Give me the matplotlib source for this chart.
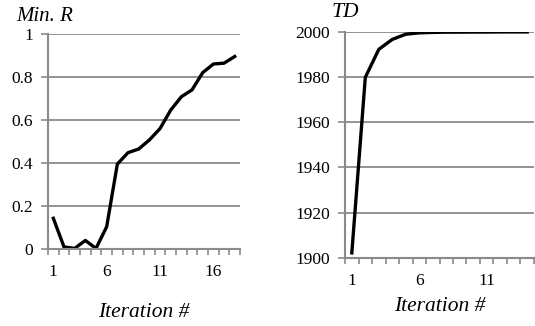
import matplotlib.pyplot as plt
import numpy as np

# Datos
min_r_iter = np.arange(1, 19)
min_r = [0.143, 0.01, 0.003, 0.04, 0.003, 0.104, 0.395, 0.448, 0.465, 0.507,
         0.56, 0.646, 0.708, 0.74, 0.82, 0.86, 0.864, 0.895]

td_iter = np.arange(1, 15)
td = [1902.2, 1979.9, 1992.3, 1996.7, 1999.0, 1999.6, 1999.8, 1999.9,
      1999.9, 1999.95, 1999.95, 2000, 2000, 2000]

plt.rcParams['font.family'] = 'Liberation Serif'
grey = '#8a8a8a'

fig = plt.figure(figsize=(5.35, 3.26), dpi=100)
ax1 = fig.add_axes([0.0897, 0.236, 0.359, 0.660])
ax2 = fig.add_axes([0.645, 0.209, 0.353, 0.693])


def estilo(ax, n, ticks):
    ax.set_xlim(0.5, n + 0.5)
    ax.set_xticks(ticks)
    ax.set_xticks(np.arange(0.5, n + 1), minor=True)
    ax.tick_params(axis='x', which='major', length=0, pad=11, labelsize=12.5)
    ax.tick_params(axis='x', which='minor', length=4, width=1.2, color=grey)
    ax.tick_params(axis='y', length=5, width=1.2, color=grey, labelsize=12.5, pad=6)
    ax.grid(axis='y', color=grey, linewidth=1.3)
    ax.set_axisbelow(True)
    for s in ['top', 'right']:
        ax.spines[s].set_visible(False)
    for s in ['left', 'bottom']:
        ax.spines[s].set_color(grey)
        ax.spines[s].set_linewidth(1.5)


ax1.plot(min_r_iter, min_r, color='black', linewidth=2.4)
estilo(ax1, len(min_r_iter), [1, 6, 11, 16])
ax1.set_ylim(0, 1)
ax1.set_yticks([0, 0.2, 0.4, 0.6, 0.8, 1])
ax1.set_yticklabels(['0', '0.2', '0.4', '0.6', '0.8', '1'])
ax1.set_xlabel('Iteration #', fontsize=15.5, style='italic', labelpad=16)
fig.text(0.031, 0.948, 'Min. R', fontsize=15, style='italic', va='center')

ax2.plot(td_iter, td, color='black', linewidth=2.4)
estilo(ax2, len(td_iter), [1, 6, 11])
ax2.set_ylim(1900, 2000)
ax2.set_yticks([1900, 1920, 1940, 1960, 1980, 2000])
ax2.set_xlabel('Iteration #', fontsize=15.5, style='italic', labelpad=6)
fig.text(0.62, 0.962, 'TD', fontsize=15.5, style='italic', va='center')

fig.savefig('out.png', dpi=100)
